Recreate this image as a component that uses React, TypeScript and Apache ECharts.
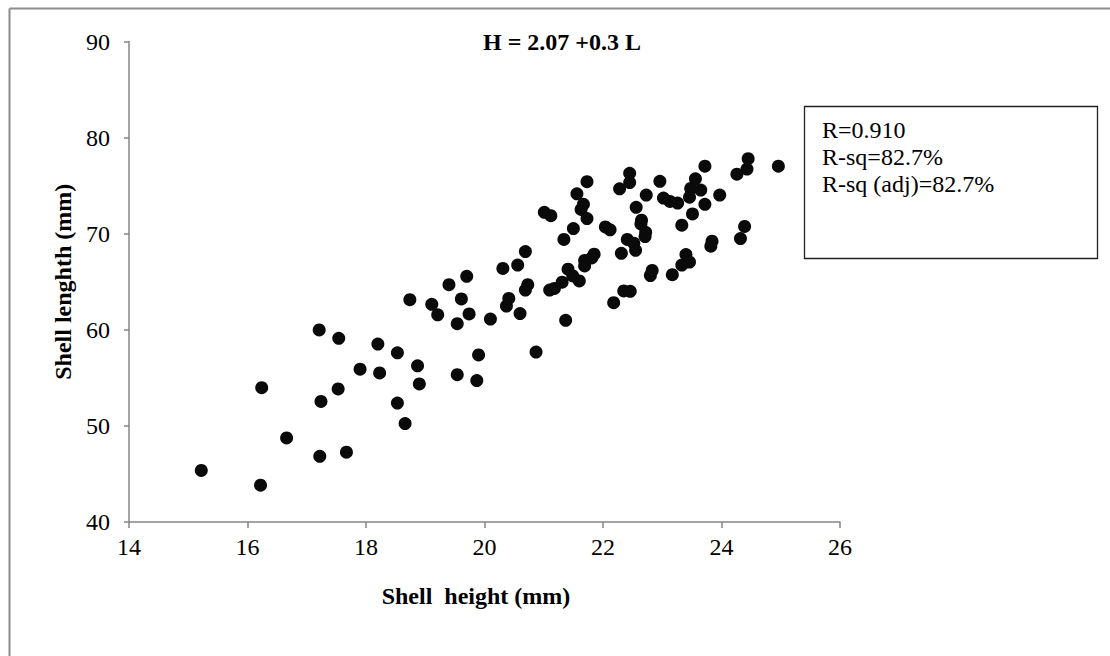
import React, { useEffect, useRef } from "react";
import * as echarts from "echarts";

// Shell height (mm) — x values
const shellHeight: number[] = [
  15.22, 16.22, 16.24, 16.66, 17.22, 17.24, 17.21, 17.53, 17.54, 17.67,
  17.9, 18.2, 18.23, 18.53, 18.53, 18.66, 18.74, 18.87, 18.9, 19.11,
  19.21, 19.4, 19.54, 19.54, 19.61, 19.7, 19.74, 19.87, 19.9, 20.1,
  20.31, 20.37, 20.41, 20.56, 20.6, 20.69, 20.69, 20.73, 20.87, 21.01,
  21.12, 21.1, 21.18, 21.31, 21.34, 21.37, 21.41, 21.49, 21.5, 21.56,
  21.6, 21.63, 21.67, 21.69, 21.69, 21.73, 21.73, 21.81, 21.85, 22.04,
  22.12, 22.18, 22.28, 22.31, 22.35, 22.41, 22.45, 22.45, 22.46, 22.52,
  22.55, 22.56, 22.65, 22.64, 22.71, 22.72, 22.73, 22.8, 22.83, 22.96,
  23.02, 23.13, 23.17, 23.26, 23.33, 23.33, 23.4, 23.46, 23.48, 23.46,
  23.51, 23.56, 23.65, 23.72, 23.72, 23.82, 23.84, 23.97, 24.26, 24.32,
  24.39, 24.43, 24.45, 24.96,
];

// Shell length (mm) — y values
const shellLength: number[] = [
  45.36, 43.83, 53.98, 48.75, 46.84, 52.54, 59.99, 53.85, 59.12, 47.27,
  55.9, 58.51, 55.51, 57.6, 52.37, 50.24, 63.13, 56.25, 54.37, 62.65,
  61.56, 64.69, 55.33, 60.64, 63.21, 65.57, 61.65, 54.72, 57.38, 61.12,
  66.39, 62.47, 63.26, 66.74, 61.69, 68.14, 64.13, 64.69, 57.68, 72.23,
  71.88, 64.13, 64.3, 64.96, 69.4, 60.99, 66.31, 65.61, 70.53, 74.15,
  65.09, 72.53, 73.06, 66.65, 67.22, 71.58, 75.41, 67.48, 67.87, 70.71,
  70.4, 62.82, 74.67, 67.96, 64.04, 69.4, 76.28, 75.32, 64.0, 69.01,
  68.27, 72.75, 71.4, 71.01, 69.7, 70.14, 74.02, 65.65, 66.18, 75.45,
  73.71, 73.36, 65.74, 73.19, 70.88, 66.74, 67.83, 67.05, 74.71, 73.8,
  72.06, 75.71, 74.54, 73.06, 77.02, 68.7, 69.22, 74.02, 76.19, 69.49,
  70.75, 76.72, 77.8, 77.02,
];

const xTicks = { min: 14, max: 26, step: 2 };
const yTicks = { min: 40, max: 90, step: 10 };

const titleText = "H = 2.07 +0.3 L";
const statsLines: string[] = ["R=0.910", "R-sq=82.7%", "R-sq (adj)=82.7%"];
const xName = "Shell  height (mm)";
const yName = "Shell lenghth (mm)";

const FONT = "'Liberation Serif', 'Times New Roman', serif";

export default function App() {
  const ref = useRef<HTMLDivElement>(null);

  useEffect(() => {
    if (!ref.current) return;
    const chart = echarts.init(ref.current, undefined, { renderer: "svg" });
    const points = shellHeight.map((h, i) => [h, shellLength[i]]);
    const statTexts = statsLines.map((t, i) => ({
      type: "text",
      x: 822,
      y: 118 + i * 27,
      z: 11,
      style: {
        text: t,
        fontFamily: FONT,
        fontSize: 24,
        fill: "#000",
        textAlign: "left",
        textVerticalAlign: "top",
      },
    }));
    chart.setOption({
      animation: false,
      backgroundColor: "#ffffff",
      textStyle: { fontFamily: FONT },
      grid: { left: 129, right: 270, top: 41.5, bottom: 134, containLabel: false },
      xAxis: {
        type: "value",
        min: xTicks.min,
        max: xTicks.max,
        interval: xTicks.step,
        name: xName,
        nameLocation: "middle",
        nameGap: 62,
        nameTextStyle: {
          fontFamily: FONT,
          fontSize: 24,
          fontWeight: "bold",
          color: "#000",
          padding: [0, 17, 0, 0],
        },
        axisLine: { show: true, onZero: false, lineStyle: { color: "#868686", width: 1.5 } },
        axisTick: { show: true, inside: false, length: 6, lineStyle: { color: "#868686", width: 1.5 } },
        axisLabel: { fontFamily: FONT, fontSize: 24, color: "#000", margin: 13 },
        splitLine: { show: false },
      },
      yAxis: {
        type: "value",
        min: yTicks.min,
        max: yTicks.max,
        interval: yTicks.step,
        name: yName,
        nameLocation: "middle",
        nameGap: 52,
        nameTextStyle: {
          fontFamily: FONT,
          fontSize: 24,
          fontWeight: "bold",
          color: "#000",
        },
        axisLine: { show: true, onZero: false, lineStyle: { color: "#868686", width: 1.5 } },
        axisTick: { show: true, inside: false, length: 5, lineStyle: { color: "#868686", width: 1.5 } },
        axisLabel: { fontFamily: FONT, fontSize: 24, color: "#000", margin: 19 },
        splitLine: { show: false },
      },
      series: [
        {
          type: "scatter",
          data: points,
          symbol: "circle",
          symbolSize: 13,
          itemStyle: { color: "#0a0a0a", opacity: 1 },
        },
      ],
      graphic: [
        {
          type: "line",
          shape: { x1: 9.5, y1: 8.5, x2: 9.5, y2: 656 },
          style: { stroke: "#8c8c8c", lineWidth: 2 },
        },
        {
          type: "line",
          shape: { x1: 9.5, y1: 8.5, x2: 1110, y2: 8.5 },
          style: { stroke: "#8c8c8c", lineWidth: 2 },
        },
        {
          type: "text",
          x: 562,
          y: 42,
          style: {
            text: titleText,
            fontFamily: FONT,
            fontSize: 24,
            fontWeight: "bold",
            fill: "#000",
            textAlign: "center",
            textVerticalAlign: "middle",
          },
        },
        {
          type: "rect",
          shape: { x: 804.5, y: 106.5, width: 293, height: 152 },
          style: { fill: "#ffffff", stroke: "#222222", lineWidth: 1.3 },
          z: 10,
        },
        ...statTexts,
      ],
    });
    return () => chart.dispose();
  }, []);

  return (
    <div
      ref={ref}
      style={{ position: "absolute", left: 0, top: 0, width: 1110, height: 656 }}
    />
  );
}
